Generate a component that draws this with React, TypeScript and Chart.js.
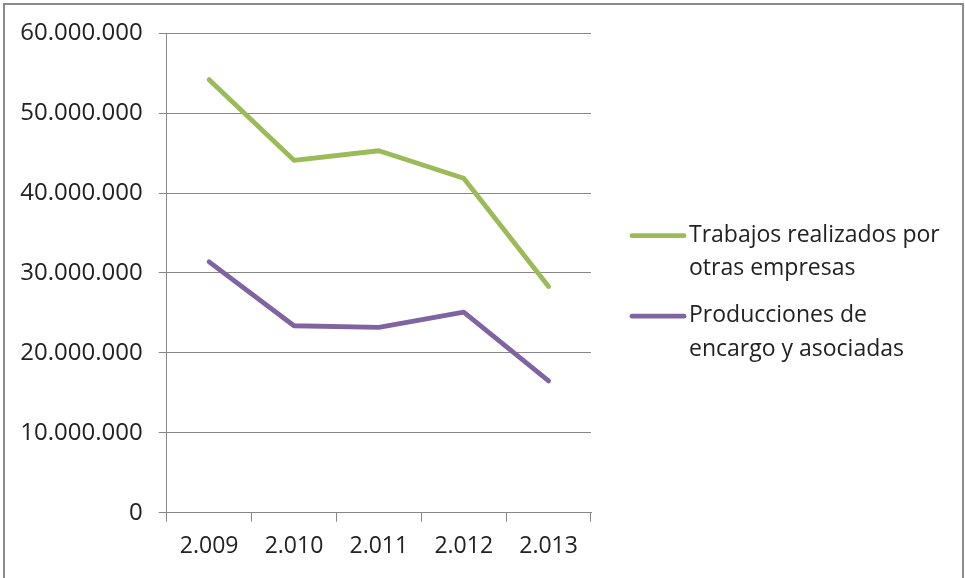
import React, { useEffect, useRef } from "react";
import { Chart, registerables } from "chart.js";

Chart.register(...registerables);

// ---- data ----
const years = ["2.009", "2.010", "2.011", "2.012", "2.013"];
const trabajosValues = [54200000, 44100000, 45300000, 41850000, 28300000];
const produccionesValues = [31400000, 23400000, 23200000, 25100000, 16500000];
const trabajosLabel = ["Trabajos realizados por", "otras empresas"];
const produccionesLabel = ["Producciones de", "encargo y asociadas"];
const yTickValues = [0, 10000000, 20000000, 30000000, 40000000, 50000000, 60000000];

const GREEN = "#9BBB59";
const PURPLE = "#8064A2";
const GRID = "#878787";
const TEXT = "#222222";
const FONT_FAMILY = "'Open Sans', sans-serif";
const FONT_SIZE = 23;

const fmt = (v: number) =>
  Math.round(v).toString().replace(/\B(?=(\d{3})+(?!\d))/g, ".");

const sideLegend = {
  id: "sideLegend",
  afterDraw(chart: any) {
    const ctx = chart.ctx as CanvasRenderingContext2D;
    ctx.save();
    ctx.font = `${FONT_SIZE}px ${FONT_FAMILY}`;
    ctx.fillStyle = TEXT;
    ctx.textAlign = "left";
    ctx.textBaseline = "alphabetic";
    chart.data.datasets.forEach((ds: any, i: number) => {
      const lineY = 235.7 + i * 80.5;
      ctx.strokeStyle = ds.borderColor;
      ctx.lineWidth = 4.8;
      ctx.lineCap = "round";
      ctx.beginPath();
      ctx.moveTo(632, lineY);
      ctx.lineTo(684, lineY);
      ctx.stroke();
      const lines: string[] = ds.legendLines;
      lines.forEach((t, j) => {
        ctx.fillText(t, 689, lineY + 6 + j * 33.6);
      });
    });
    ctx.restore();
  },
};

export default function App() {
  const ref = useRef<HTMLCanvasElement | null>(null);

  useEffect(() => {
    if (!ref.current) return;
    const chart = new Chart(ref.current, {
      type: "line",
      data: {
        labels: years,
        datasets: [
          {
            label: trabajosLabel.join(" "),
            legendLines: trabajosLabel,
            data: trabajosValues,
            borderColor: GREEN,
            backgroundColor: GREEN,
            borderWidth: 4.8,
            pointRadius: 0,
            borderCapStyle: "round",
            borderJoinStyle: "round",
            tension: 0,
          } as any,
          {
            label: produccionesLabel.join(" "),
            legendLines: produccionesLabel,
            data: produccionesValues,
            borderColor: PURPLE,
            backgroundColor: PURPLE,
            borderWidth: 4.8,
            pointRadius: 0,
            borderCapStyle: "round",
            borderJoinStyle: "round",
            tension: 0,
          } as any,
        ],
      },
      options: {
        animation: false,
        responsive: false,
        maintainAspectRatio: false,
        layout: { padding: { left: 0, right: 374, top: 33.3, bottom: 0 } },
        plugins: {
          legend: { display: false },
          tooltip: { enabled: false },
        },
        scales: {
          x: {
            type: "category",
            offset: true,
            grid: {
              offset: true,
              drawOnChartArea: false,
              drawTicks: true,
              tickLength: 9,
              color: GRID,
              lineWidth: 1,
            },
            border: { display: true, color: GRID, width: 1 },
            ticks: {
              padding: 11,
              color: TEXT,
              font: { family: FONT_FAMILY, size: FONT_SIZE },
              maxRotation: 0,
              autoSkip: false,
            },
            afterFit: (s: any) => {
              s.height = 65.3;
            },
          },
          y: {
            min: 0,
            max: 60000000,
            afterBuildTicks: (s: any) => {
              s.ticks = yTickValues.map((v) => ({ value: v }));
            },
            grid: {
              color: GRID,
              lineWidth: 1,
              drawTicks: true,
              tickLength: 8,
            },
            border: { display: true, color: GRID, width: 1 },
            ticks: {
              padding: 16,
              color: TEXT,
              font: { family: FONT_FAMILY, size: 24 },
              callback: (v: any) => fmt(Number(v)),
            },
            afterFit: (s: any) => {
              s.width = 166.7;
            },
          },
        },
      },
      plugins: [sideLegend],
    });
    return () => chart.destroy();
  }, []);

  return (
    <div
      style={{
        position: "absolute",
        left: 0,
        top: 0,
        width: 965,
        height: 578,
        overflow: "hidden",
        background: "#fff",
      }}
    >
      <canvas
        ref={ref}
        width={965}
        height={578}
        style={{ position: "absolute", left: 0, top: 0, width: 965, height: 578 }}
      />
      <div
        style={{
          position: "absolute",
          left: 3,
          top: 3,
          width: 957,
          height: 620,
          border: "2px solid #8a8a8a",
          pointerEvents: "none",
        }}
      />
    </div>
  );
}
